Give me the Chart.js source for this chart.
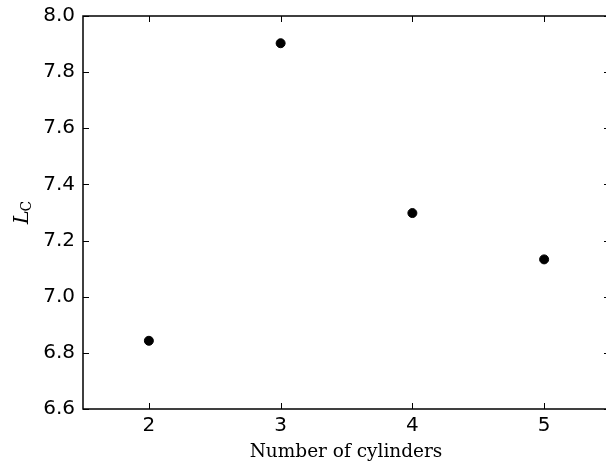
<!DOCTYPE html>
<html>
<head>
<meta charset="utf-8">
<script src="https://cdn.jsdelivr.net/npm/chart.js@4.4.1/dist/chart.umd.min.js"></script>
<style>
  html, body { margin: 0; padding: 0; background: #fff; overflow: hidden; }
  #wrap { width: 606px; height: 468px; }
</style>
</head>
<body>
<div id="wrap"><canvas id="chart" width="606" height="468"></canvas></div>
<script>
// data
const cylinders = [2, 3, 4, 5];
const lcValues = [6.843, 7.903, 7.298, 7.133];
const xTicks = [2, 3, 4, 5];
const yTicks = [6.6, 6.8, 7.0, 7.2, 7.4, 7.6, 7.8, 8.0];

const points = cylinders.map((c, i) => ({ x: c, y: lcValues[i] }));

// the original figure is cropped: its right spine sits just past the canvas edge
const PLOT_RIGHT = 610;
const PLOT_TOP = 16;

const fixArea = {
  id: 'fixArea',
  afterLayout(chart) {
    const { x, y } = chart.scales;
    const a = chart.chartArea;
    a.right = PLOT_RIGHT;
    a.width = PLOT_RIGHT - a.left;
    a.top = PLOT_TOP;
    a.height = a.bottom - PLOT_TOP;
    x.right = PLOT_RIGHT;
    x.width = PLOT_RIGHT - x.left;
    x.configure();
    y.top = PLOT_TOP;
    y.height = y.bottom - PLOT_TOP;
    y.configure();
  }
};

// inward ticks on all four sides, matplotlib classic style
const innerTicks = {
  id: 'innerTicks',
  afterDraw(chart) {
    const { ctx, chartArea: a, scales } = chart;
    const len = 6;
    ctx.save();
    ctx.strokeStyle = '#000';
    ctx.lineWidth = 1;
    ctx.beginPath();
    xTicks.forEach(v => {
      const x = Math.round(scales.x.getPixelForValue(v)) + 0.5;
      ctx.moveTo(x, a.bottom); ctx.lineTo(x, a.bottom - len);
      ctx.moveTo(x, a.top); ctx.lineTo(x, a.top + len);
    });
    yTicks.forEach(v => {
      const y = Math.round(scales.y.getPixelForValue(v)) + 0.5;
      ctx.moveTo(a.left, y); ctx.lineTo(a.left + len, y);
      ctx.moveTo(a.right, y); ctx.lineTo(a.right - len, y);
    });
    ctx.stroke();

    // frame
    ctx.lineWidth = 1.5;
    ctx.strokeRect(a.left, a.top, a.right - a.left, a.bottom - a.top);

    // axis titles
    ctx.fillStyle = '#000';
    ctx.font = '18.5px "DejaVu Serif", serif';
    ctx.textAlign = 'center';
    ctx.textBaseline = 'alphabetic';
    ctx.fillText('Number of cylinders', 346, 457);

    ctx.translate(28, 212);
    ctx.rotate(-Math.PI / 2);
    ctx.textAlign = 'left';
    ctx.font = 'italic 21px "DejaVu Serif", serif';
    const wL = ctx.measureText('L').width;
    ctx.font = '14px "DejaVu Serif", serif';
    const wC = ctx.measureText('C').width;
    const start = -(wL + wC) / 2;
    ctx.font = 'italic 21px "DejaVu Serif", serif';
    ctx.fillText('L', start, 0);
    ctx.font = '14px "DejaVu Serif", serif';
    ctx.fillText('C', start + wL - 1, 3);
    ctx.restore();
  }
};

new Chart(document.getElementById('chart'), {
  type: 'scatter',
  data: {
    datasets: [{
      data: points,
      backgroundColor: '#000',
      borderColor: '#000',
      pointRadius: 4.5,
      pointHoverRadius: 4.5
    }]
  },
  options: {
    responsive: false,
    animation: false,
    layout: { padding: { top: 16, right: 0, left: 0, bottom: 0 } },
    plugins: { legend: { display: false }, tooltip: { enabled: false } },
    scales: {
      x: {
        type: 'linear',
        min: 1.5,
        max: 5.5,
        afterBuildTicks(scale) { scale.ticks = xTicks.map(v => ({ value: v })); },
        afterFit(scale) { scale.height = 59; },
        grid: { display: false, drawTicks: false },
        border: { display: false },
        ticks: {
          color: '#000',
          padding: 5,
          font: { family: '"DejaVu Sans", sans-serif', size: 20 },
          callback: v => String(v)
        }
      },
      y: {
        min: 6.6,
        max: 8.0,
        afterBuildTicks(scale) { scale.ticks = yTicks.map(v => ({ value: v })); },
        afterFit(scale) { scale.width = 83; },
        grid: { display: false, drawTicks: false },
        border: { display: false },
        ticks: {
          color: '#000',
          padding: 8,
          font: { family: '"DejaVu Sans", sans-serif', size: 20 },
          callback: v => v.toFixed(1)
        }
      }
    }
  },
  plugins: [fixArea, innerTicks]
});
</script>
</body>
</html>
